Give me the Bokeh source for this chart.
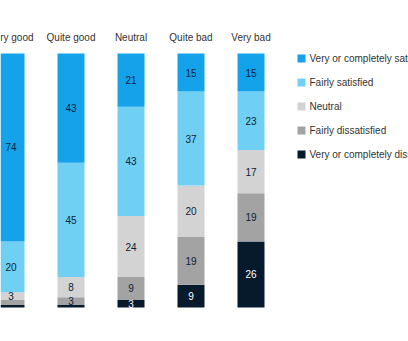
import numpy as np
from bokeh.plotting import figure
from bokeh.models import ColumnDataSource
from bokeh.core.properties import value
from bokeh.embed import file_html
from bokeh.resources import INLINE

categories = ["Very good", "Quite good", "Neutral", "Quite bad", "Very bad"]
series_names = ["Very or completely satisfied", "Fairly satisfied", "Neutral",
                "Fairly dissatisfied", "Very or completely dissatisfied"]
very_satisfied = [74, 43, 21, 15, 15]
fairly_satisfied = [20, 45, 43, 37, 23]
neutral = [3, 8, 24, 20, 17]
fairly_dissatisfied = [2, 3, 9, 19, 19]
very_dissatisfied = [1, 1, 3, 9, 26]

colors = ["#14a3ea", "#70d0f4", "#d3d3d3", "#a3a3a3", "#061a2b"]
label_colors = ["#0a2236", "#0a2236", "#0a2236", "#0a2236", "#ffffff"]
FONT = "Liberation Sans"

W, H = 408, 341
px_per_cat = 60.0
bar_w_px = 27.0
x_start = -(bar_w_px / 2 - 3) / px_per_cat
x_end = x_start + W / px_per_cat
top_px, bottom_px = 53.0, 307.0
ppu = (bottom_px - top_px) / 100.0
y_end = 100 + top_px / ppu
y_start = -(H - bottom_px) / ppu

p = figure(width=W, height=H, output_backend="svg", toolbar_location=None,
           x_range=(x_start, x_end), y_range=(y_start, y_end),
           min_border=0, min_border_left=0, min_border_right=0,
           min_border_top=0, min_border_bottom=0)
p.axis.visible = False
p.grid.visible = False
p.outline_line_color = None
p.background_fill_color = "white"
p.border_fill_color = "white"

xs = np.arange(len(categories), dtype=float)
all_series = [very_satisfied, fairly_satisfied, neutral, fairly_dissatisfied, very_dissatisfied]
# stack from the bottom: very dissatisfied at bottom, very satisfied at top
order = list(range(len(all_series)))[::-1]
base = np.zeros(len(categories))
lab_x, lab_y, lab_t, lab_c = [], [], [], []
for i in order:
    vals = np.array(all_series[i], dtype=float)
    src = ColumnDataSource(dict(x=xs, bottom=base.copy(), top=base + vals))
    p.vbar(x="x", bottom="bottom", top="top", width=bar_w_px / px_per_cat,
           source=src, fill_color=colors[i], line_color=None)
    for j, v in enumerate(vals):
        if v >= 3:
            lab_x.append(xs[j]); lab_y.append(base[j] + v / 2)
            lab_t.append(str(int(v))); lab_c.append(label_colors[i])
    base = base + vals

p.text(x=lab_x, y=lab_y, text=lab_t, text_color=lab_c, text_align="center",
       text_baseline="middle", text_font=value(FONT), text_font_size="10px")

# category labels above bars
cat_y = 100 + (top_px - 37) / ppu
p.text(x=xs, y=[cat_y] * len(xs), text=categories, text_color="#333333",
       text_align="center", text_baseline="middle", text_font=value(FONT),
       text_font_size="10px")

# legend (manual, clipped by the frame edge)
leg_sq_x = x_start + 301 / px_per_cat
leg_tx_x = x_start + 309 / px_per_cat
leg_y0 = y_end - 58 / ppu
leg_step = 24 / ppu
leg_ys = [leg_y0 - k * leg_step for k in range(len(series_names))]
p.scatter(x=[leg_sq_x] * len(series_names), y=leg_ys, marker="square", size=8,
          fill_color=colors, line_color=None)
p.text(x=[leg_tx_x] * len(series_names), y=leg_ys, text=series_names,
       text_color="#333333", text_align="left", text_baseline="middle",
       text_font=value(FONT), text_font_size="10px")

open("out.html", "w").write(file_html(p, INLINE))
